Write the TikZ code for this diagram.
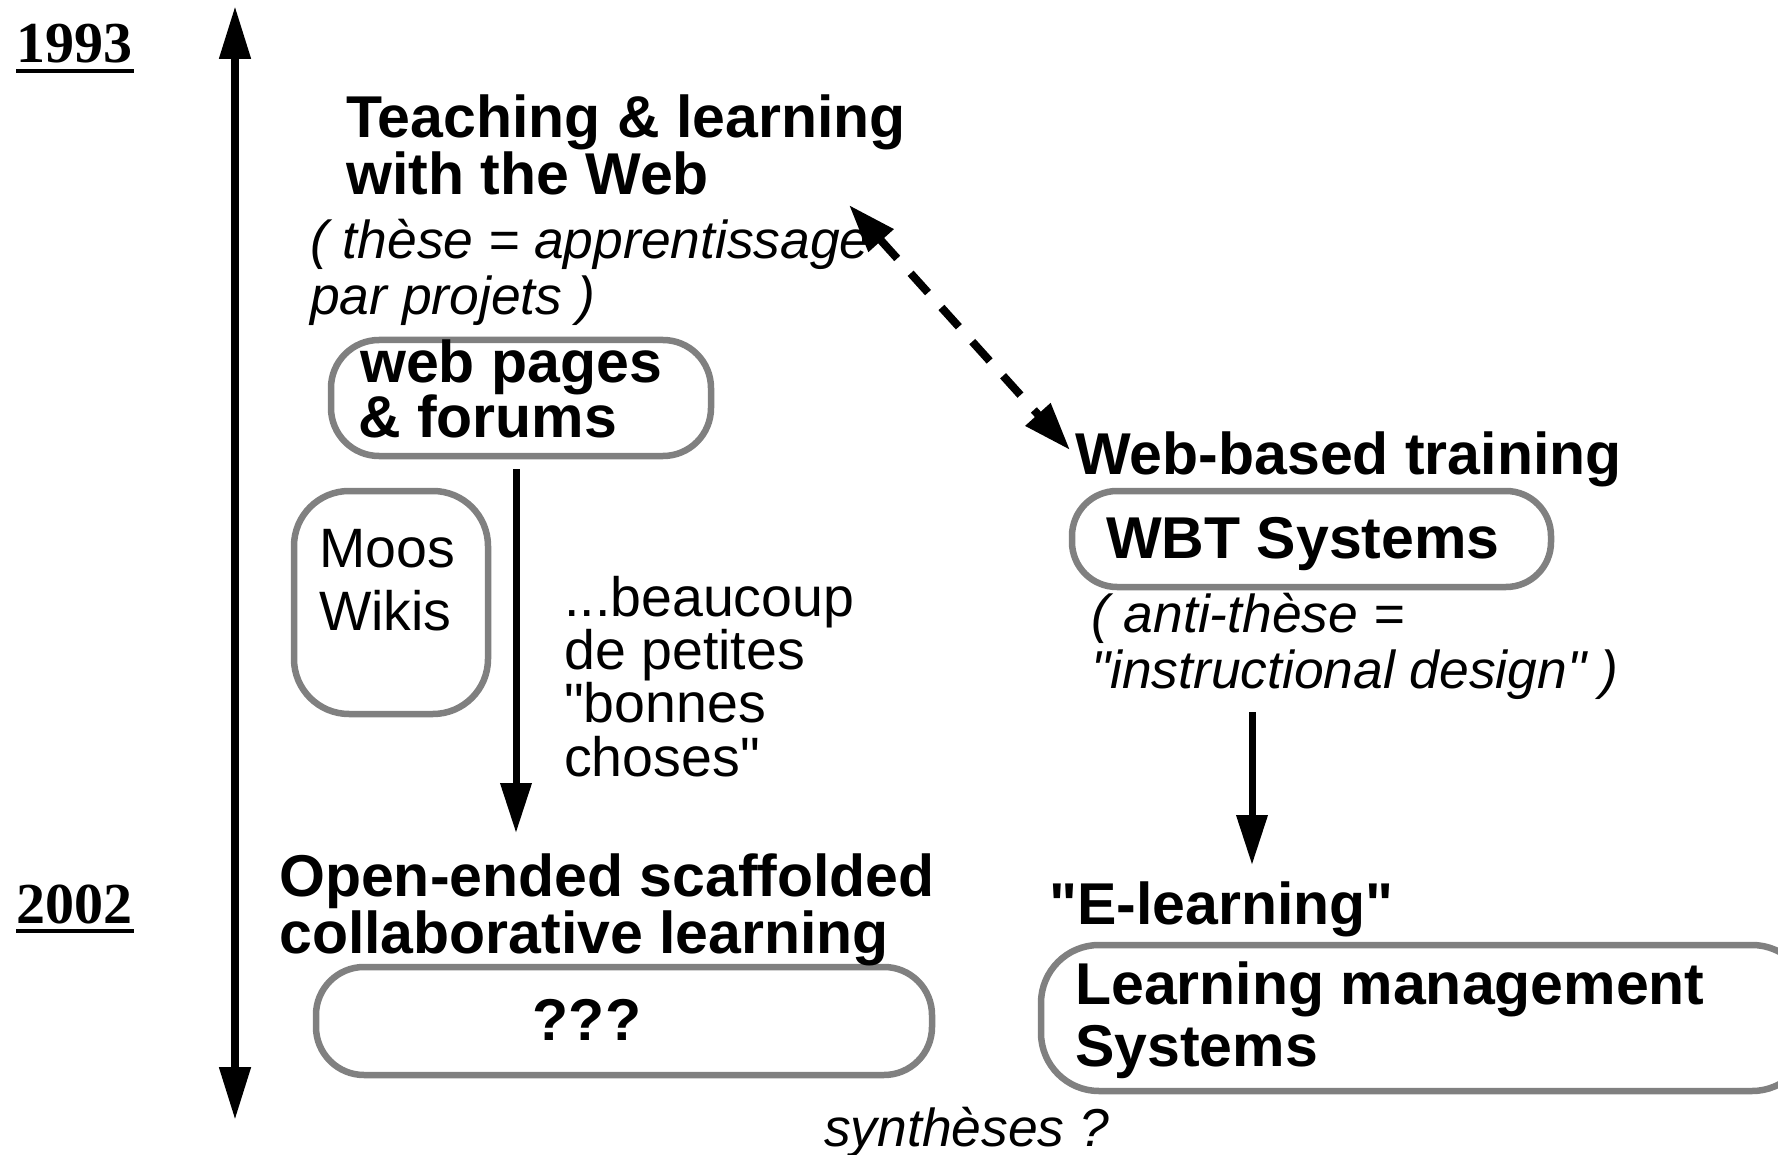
\documentclass[tikz,border=0pt]{standalone}
\usepackage{fontspec}
\setmainfont{Liberation Sans}[Ligatures=TeXOff]
\newfontfamily\yearfont{Liberation Serif}
\usetikzlibrary{arrows.meta}
\tikzset{
  bt/.style={font=\fontsize{59}{57}\selectfont\bfseries, anchor=base west, inner sep=0pt},
  it/.style={font=\fontsize{53.4}{52}\selectfont\itshape, anchor=base west, inner sep=0pt},
  rt/.style={font=\fontsize{55.5}{54}\selectfont, anchor=base west, inner sep=0pt},
  yr/.style={font=\fontsize{58}{57}\selectfont\yearfont\bfseries, anchor=base west, inner sep=0pt},
  gbox/.style={draw=black!50, line width=6.5pt, fill=none},
  arr/.style={line width=7pt, -{Triangle[length=50pt,width=30pt]}},
}
\begin{document}
\begin{tikzpicture}[x=1pt,y=-1pt]
\useasboundingbox (0,0) rectangle (1778,1155);
\clip (0,0) rectangle (1778,1155);
% years
\node[yr] (y1) at (16,63) {1993};
\draw[line width=4pt] (y1.base west) ++(0,8) coordinate (u1a) -- ++(118,0) coordinate (u1b);
\node[yr] (y2) at (16,923) {2002};
\draw[line width=4pt] (y2.base west) ++(0,8) coordinate (u2a) -- ++(118,0) coordinate (u2b);
% time axis
\coordinate (axT) at (235,6);
\coordinate (axB) at (235,1120);
\draw[line width=8pt, {Triangle[length=53pt,width=30pt]}-{Triangle[length=53pt,width=30pt]}] (axT) -- (axB);
% boxes
\draw[gbox, rounded corners=48pt] (331,340) rectangle (711,456);
\coordinate (wpS) at (516,469);
\draw[gbox, rounded corners=55pt] (294,491) rectangle (488,714);
\draw[gbox, rounded corners=45pt] (1072,491) rectangle (1551,587);
\draw[gbox, rounded corners=48pt] (316,967) rectangle (932,1075);
\draw[gbox, rounded corners=58pt] (1041,945) rectangle (1810,1091);
% texts left
\node[bt] (t1a) at (346,138) {Teaching \& learning};
\node[bt] (t1b) at (346,195) {with the Web};
\node[it] (t2a) at (310,259) {( thèse = apprentissage};
\node[it] (t2b) at (310,315) {par projets )};
\node[bt] (wpa) at (360,383) {web pages};
\node[bt] (wpb) at (358,438) {\& forums};
\node[rt] (mwa) at (319,567) {Moos};
\node[rt] (mwb) at (319,630) {Wikis};
\node[rt] (bc1) at (564,616) {...beaucoup};
\node[rt] (bc2) at (564,669) {de petites};
\node[rt] (bc3) at (564,722) {"bonnes};
\node[rt] (bc4) at (564,776) {choses"};
\node[bt] (oe1) at (279,896) {Open-ended scaffolded};
\node[bt] (oe2) at (279,953) {collaborative learning};
\node[bt, anchor=base] (qqq) at (587,1040) {???};
\node[it] (syn) at (824,1146) {synthèses ?};
% texts right
\node[bt] (wbtr) at (1075,474) {Web-based training};
\node[bt] (wbts) at (1106,558) {WBT Systems};
\node[it] (at1) at (1091,632) {( anti-thèse =};
\node[it] (at2) at (1091,688) {"instructional design" )};
\node[bt] (el) at (1049,924) {"E-learning"};
\node[bt] (lms1) at (1075,1004) {Learning management};
\node[bt] (lms2) at (1075,1066) {Systems};
% arrows
\coordinate (oeN) at (516,833);
\draw[arr] (wpS) -- (oeN);
\coordinate (atS) at (1252,712);
\coordinate (elN) at (1252,865);
\draw[arr] (atS) -- (elN);
\coordinate (dA) at (849,205);
\coordinate (dB) at (1070,450);
\draw[line width=8pt, dash pattern=on 26pt off 20pt,
  {Triangle[length=48pt,width=32pt]}-{Triangle[length=48pt,width=32pt]}] (dA) -- (dB);
\end{tikzpicture}
\end{document}
